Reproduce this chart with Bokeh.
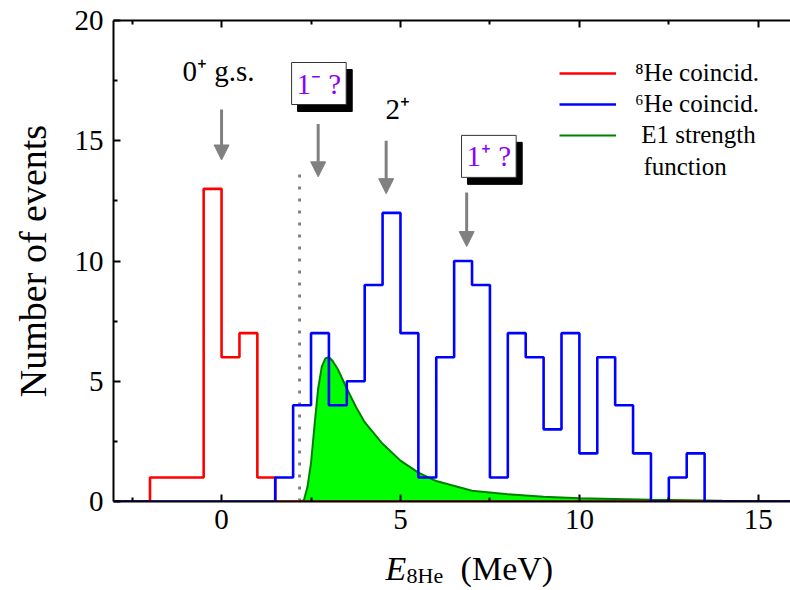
import numpy as np
from bokeh.plotting import figure
from bokeh.layouts import column
from bokeh.models import (Range1d, LinearAxis, Label, Arrow, NormalHead, Legend,
                          LegendItem, FixedTicker, ColumnDataSource)
from bokeh.embed import file_html
from bokeh.resources import INLINE

# ---------------- data ----------------
bin_width = 0.5
hist_start = -3.0
hist_end = 16.0

red_bins = [-2.0, -1.5, -1.0, -0.5, 0.0, 0.5, 1.0]          # lower bin edges (MeV)
red_counts = [1, 1, 1, 13, 6, 7, 1]

blue_bins = [1.5, 2.0, 2.5, 3.0, 3.5, 4.0, 4.5, 5.0, 5.5, 6.0, 6.5, 7.0, 7.5,
             8.0, 8.5, 9.0, 9.5, 10.0, 10.5, 11.0, 11.5, 12.0, 12.5, 13.0]
blue_counts = [1, 4, 7, 4, 5, 9, 12, 7, 1, 6, 10, 9, 1,
               7, 6, 3, 7, 2, 6, 4, 2, 0, 1, 2]

e1_energy = [2.2, 2.3, 2.4, 2.5, 2.6, 2.7, 2.8, 2.9, 3.0, 3.1, 3.25, 3.5, 3.75,
             4.0, 4.5, 5.0, 5.5, 6.0, 7.0, 8.0, 9.0, 10.0, 12.0, 14.0, 16.0]
e1_strength = [0.0, 0.05, 0.6, 1.6, 3.2, 4.7, 5.6, 5.95, 6.0, 5.85, 5.5, 4.7, 3.95,
               3.3, 2.4, 1.7, 1.2, 0.85, 0.45, 0.3, 0.2, 0.14, 0.07, 0.03, 0.01]

threshold_energy = 2.18
threshold_top = 13.8

state_energy = [0.0, 2.7, 4.6, 6.85]
arrow_top = [16.3, 15.7, 15.0, 12.85]
arrow_bottom = [14.2, 13.5, 12.8, 10.6]

x_ticks = [0, 5, 10, 15]
x_minor = [-2.5, 2.5, 7.5, 12.5]
y_ticks = [0, 5, 10, 15, 20]
y_minor = [2.5, 7.5, 12.5, 17.5]

legend_labels = ["\u2078He coincid.", "\u2076He coincid.", " E1 strength"]

# ------------- build step arrays -------------
edges = np.arange(hist_start, hist_end + bin_width / 2, bin_width)
def full_counts(bins, counts):
    arr = np.zeros(len(edges))
    for b, c in zip(bins, counts):
        i = int(round((b - hist_start) / bin_width))
        arr[i] = c
    arr[-1] = arr[-2]
    return arr
red_y = full_counts(red_bins, red_counts)
blue_y = full_counts(blue_bins, blue_counts)

FONT = "Liberation Serif"
INK = "black"

xr = Range1d(-3.02, 15.9)
p = figure(width=790, height=545, x_range=xr, y_range=Range1d(0, 20),
           output_backend="svg", toolbar_location=None,
           min_border_left=113, min_border_right=0, min_border_top=20, min_border_bottom=44)
p.background_fill_color = "white"
p.border_fill_color = "white"
p.outline_line_color = None
p.xgrid.visible = False
p.ygrid.visible = False

# green E1 strength
p.varea(x=e1_energy, y1=0, y2=e1_strength, fill_color="#00ff00")
r_green = p.line(e1_energy, e1_strength, line_color="#008000", line_width=2)

# threshold dotted line
p.line([threshold_energy, threshold_energy], [0, threshold_top], line_color="#808080",
       line_width=3, line_dash="3 9")

r_red = p.step(edges, red_y, mode="after", line_color="#ff0000", line_width=2.6)
r_blue = p.step(edges, blue_y, mode="after", line_color="#0000ff", line_width=2.6)

# arrows
arrow_src = ColumnDataSource(dict(x0=state_energy, y0=arrow_top, x1=state_energy, y1=arrow_bottom))
p.add_layout(Arrow(source=arrow_src, x_start="x0", y_start="y0", x_end="x1", y_end="y1",
                   line_color="#808080", line_width=3,
                   end=NormalHead(size=15, fill_color="#808080", line_color="#808080")))

# axes styling
for ax in [p.xaxis[0], p.yaxis[0]]:
    ax.axis_line_width = 2
    ax.major_tick_line_width = 2
    ax.minor_tick_line_width = 2
    ax.major_tick_in = 7
    ax.major_tick_out = 0
    ax.minor_tick_in = 4
    ax.minor_tick_out = 0
    ax.major_label_text_font = FONT
    ax.major_label_text_font_size = "29px"
    ax.major_label_text_color = INK
p.xaxis.ticker = FixedTicker(ticks=x_ticks, minor_ticks=x_minor)
p.yaxis.ticker = FixedTicker(ticks=y_ticks, minor_ticks=y_minor)
p.xaxis.major_label_standoff = 8
p.yaxis.major_label_standoff = 10
p.yaxis.axis_label = "Number of events"
p.yaxis.axis_label_text_font = FONT
p.yaxis.axis_label_text_font_size = "38px"
p.yaxis.axis_label_text_font_style = "normal"
p.yaxis.axis_label_text_color = INK
p.yaxis.axis_label_standoff = 18

top_axis = LinearAxis(ticker=FixedTicker(ticks=x_ticks, minor_ticks=x_minor),
                      axis_line_width=2, major_tick_line_width=2, minor_tick_line_width=2,
                      major_tick_in=7, major_tick_out=0, minor_tick_in=4, minor_tick_out=0,
                      major_label_text_alpha=0, major_label_text_font_size="1px",
                      major_label_standoff=0)
p.add_layout(top_axis, "above")

# state annotations
p.add_layout(Label(x=-1.09, y=17.92, text="0\u207a g.s.", text_font=FONT, text_font_size="29px",
                   text_color=INK, text_baseline="alphabetic"))
p.add_layout(Label(x=4.58, y=16.34, text="2\u207a", text_font=FONT, text_font_size="29px",
                   text_color=INK, text_baseline="alphabetic"))

for bx, by, txt in [(2.72, 17.38, "1\u207b ?"), (7.47, 14.35, "1\u207a ?")]:
    p.add_layout(Label(x=bx + 0.168, y=by - 0.29, text=txt, text_font=FONT, text_font_size="29px",
                       text_align="center", text_baseline="middle", text_color="black",
                       background_fill_color="black", border_line_color="black",
                       padding=5))
    p.add_layout(Label(x=bx, y=by, text=txt, text_font=FONT, text_font_size="29px",
                       text_color="#8800ff", text_align="center", text_baseline="middle",
                       background_fill_color="white", border_line_color="#333333",
                       border_line_width=1, padding=5))

legend = Legend(items=[LegendItem(label=legend_labels[0], renderers=[r_red]),
                       LegendItem(label=legend_labels[1], renderers=[r_blue]),
                       LegendItem(label=legend_labels[2], renderers=[r_green])],
                location=(446, 352), border_line_color=None, background_fill_alpha=0,
                label_text_font=FONT, label_text_font_size="25px", label_text_color=INK,
                glyph_width=57, glyph_height=20, label_standoff=19, spacing=3,
                padding=0, margin=0)
p.add_layout(legend)
p.add_layout(Label(x=11.79, y=13.92, text="function", text_font=FONT, text_font_size="25px",
                   text_color=INK, text_baseline="alphabetic"))

# ---------- x-axis title strip (text only) ----------
q = figure(width=790, height=45, x_range=xr, y_range=Range1d(0, 45),
           output_backend="svg", toolbar_location=None,
           min_border_left=113, min_border_right=0, min_border_top=0, min_border_bottom=0)
q.axis.visible = False
q.grid.visible = False
q.outline_line_color = None
q.background_fill_color = "white"
q.border_fill_color = "white"
q.add_layout(Label(x=4.58, y=22, text="E", text_font=FONT, text_font_size="34px",
                   text_color=INK, text_font_style="italic", text_baseline="alphabetic"))
q.add_layout(Label(x=5.17, y=15, text="8He", text_font=FONT, text_font_size="22px",
                   text_color=INK, text_baseline="alphabetic"))
q.add_layout(Label(x=6.68, y=22, text="(MeV)", text_font=FONT, text_font_size="34px",
                   text_color=INK, text_baseline="alphabetic"))

layout = column(p, q, spacing=0)
open("out.html", "w").write(file_html(layout, INLINE))
